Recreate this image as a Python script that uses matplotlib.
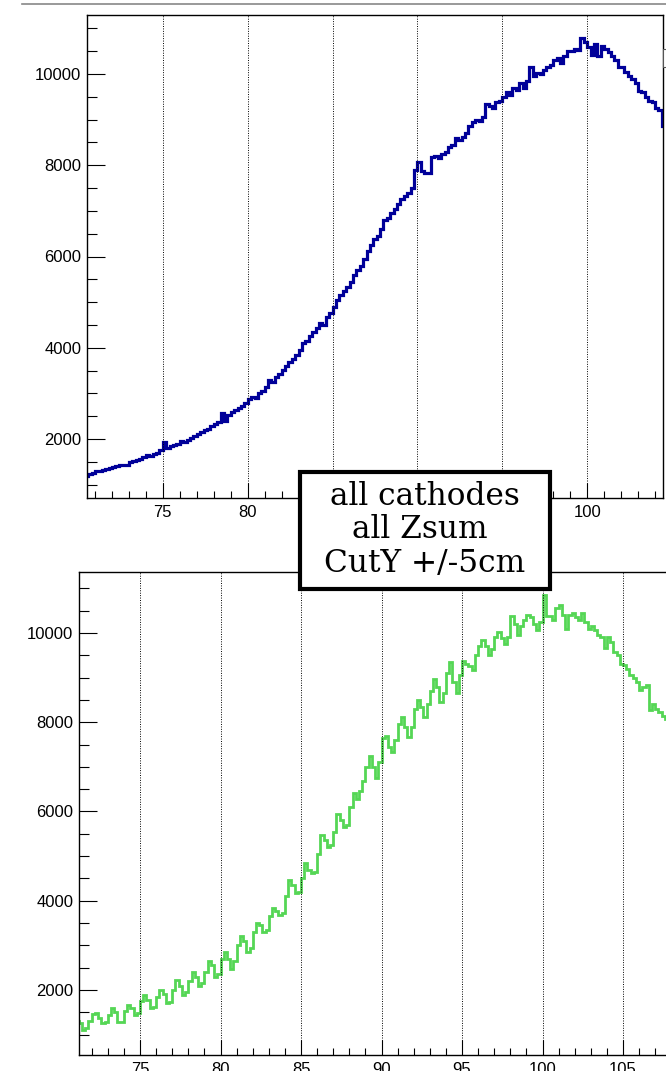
import numpy as np
import matplotlib
matplotlib.use("Agg")
import matplotlib.pyplot as plt
from matplotlib.patches import Rectangle
from matplotlib.lines import Line2D
from matplotlib.ticker import MultipleLocator

# histogram contents, 0.2 cm bins
top_start = 70.4
top_counts = [
    1200, 1225, 1250,
    1300, 1290, 1330, 1350, 1370,
    1390, 1400, 1420, 1440, 1430,
    1490, 1510, 1530, 1560, 1600,
    1640, 1630, 1680, 1700, 1750,
    1930, 1800, 1840, 1870, 1900,
    1950, 1940, 1980, 2030, 2070,
    2120, 2160, 2200, 2220, 2280,
    2330, 2380, 2570, 2400, 2520,
    2600, 2640, 2680, 2720, 2780,
    2880, 2920, 2900, 3000, 3060,
    3140, 3300, 3240, 3360, 3420,
    3520, 3600, 3680, 3760, 3850,
    3950, 4100, 4150, 4260, 4350,
    4430, 4550, 4500, 4680, 4760,
    4900, 5050, 5150, 5250, 5330,
    5450, 5600, 5700, 5800, 5950,
    6120, 6250, 6380, 6450, 6600,
    6800, 6850, 6950, 7050, 7150,
    7250, 7330, 7400, 7500, 7900,
    8080, 7870, 7840, 7830, 8170,
    8200, 8150, 8250, 8300, 8400,
    8450, 8600, 8550, 8620, 8700,
    8850, 8950, 9000, 8980, 9050,
    9350, 9300, 9250, 9380, 9400,
    9500, 9600, 9550, 9700, 9650,
    9800, 9700, 9850, 10150, 9950,
    10020, 10000, 10080, 10150, 10200,
    10300, 10350, 10250, 10400, 10500,
    10500, 10550, 10520, 10780, 10700,
    10600, 10420, 10650, 10400, 10620,
    10550, 10480, 10400, 10300, 10160,
    10150, 10050, 9950, 9900, 9800,
    9620, 9600, 9500, 9400, 9390,
    9250, 9200, 8850, 8800, 8700,
]

bottom_start = 71.0
bottom_counts = [
    1300, 1250, 1100, 1150, 1300,
    1460, 1480, 1380, 1260, 1280,
    1450, 1590, 1500, 1280, 1290,
    1520, 1660, 1600, 1450, 1480,
    1750, 1890, 1780, 1600, 1620,
    1850, 1990, 1900, 1700, 1720,
    2000, 2220, 2100, 1890, 1950,
    2200, 2400, 2300, 2100, 2150,
    2400, 2640, 2550, 2300, 2350,
    2700, 2860, 2700, 2470, 2650,
    3000, 3210, 3100, 2860, 2950,
    3300, 3490, 3450, 3310, 3350,
    3650, 3830, 3780, 3680, 3720,
    4100, 4460, 4350, 4170, 4200,
    4520, 4850, 4700, 4620, 4650,
    5050, 5470, 5350, 5210, 5250,
    5550, 5940, 5800, 5660, 5700,
    6100, 6420, 6270, 6450, 6680,
    7000, 7250, 7000, 6740, 7100,
    7650, 7700, 7450, 7340, 7600,
    7950, 8120, 7900, 7680, 7900,
    8300, 8500, 8350, 8120, 8400,
    8700, 8980, 8800, 8460, 8650,
    9100, 9360, 8900, 8650, 9050,
    9370, 9300, 9250, 9170, 9500,
    9700, 9840, 9700, 9510, 9650,
    9900, 10030, 9880, 9750, 9900,
    10370, 10200, 9960, 10150, 10300,
    10400, 10350, 10200, 10070, 10250,
    10850, 10370, 10380, 10300, 10550,
    10630, 10400, 10100, 10400, 10450,
    10350, 10300, 10440, 10250, 10100,
    10150, 10070, 9950, 9900, 9660,
    9920, 9800, 9580, 9500, 9300,
    9280, 9200, 9060, 9000, 8900,
    8720, 8800, 8840, 8280, 8400,
    8300, 8240, 8150, 8080, 8010,
]
bin_width = 0.2

label_lines = ["all cathodes", "all Zsum ", "CutY +/-5cm"]

W, H = 666, 1071
fig = plt.figure(figsize=(W / 100, H / 100), dpi=100)


def style_axis(ax):
    ax.xaxis.set_major_locator(MultipleLocator(5))
    ax.xaxis.set_minor_locator(MultipleLocator(1))
    ax.yaxis.set_major_locator(MultipleLocator(2000))
    ax.yaxis.set_minor_locator(MultipleLocator(500))
    ax.tick_params(axis="x", which="major", direction="in", length=10.8, width=0.8, pad=5)
    ax.tick_params(axis="x", which="minor", direction="in", length=5.2, width=0.8)
    ax.tick_params(axis="y", which="major", direction="in", length=13, width=0.8, pad=4)
    ax.tick_params(axis="y", which="minor", direction="in", length=7.2, width=0.8)
    for lab in ax.get_xticklabels() + ax.get_yticklabels():
        lab.set_fontfamily("Liberation Sans")
        lab.set_fontsize(12)
    ax.grid(axis="x", which="major", color="black", linestyle=(0, (1, 1.5)), linewidth=0.7)
    for sp in ax.spines.values():
        sp.set_linewidth(1.0)


# upper histogram
ax1 = fig.add_axes([87 / W, 1 - 498 / H, 576 / W, 483 / H])
edges1 = top_start + bin_width * np.arange(len(top_counts) + 1)
ax1.stairs(top_counts, edges1, baseline=None, color="#000099", linewidth=2.3)
ax1.set_xlim(70.53, 104.47)
ax1.set_ylim(707, 11293)
style_axis(ax1)

# lower histogram
ax2 = fig.add_axes([79 / W, 1 - 1055 / H, 621 / W, 483 / H])
edges2 = bottom_start + bin_width * np.arange(len(bottom_counts) + 1)
ax2.stairs(bottom_counts, edges2, baseline=None, color="#55d655", linewidth=2.0)
ax2.set_xlim(71.21, 109.78)
ax2.set_ylim(543, 11367)
style_axis(ax2)

# thin separator line at the very top
fig.add_artist(Line2D([22 / W, 1.0], [1 - 4 / H, 1 - 4 / H], color="#888888", linewidth=1.2))

# edge of a box cut off on the right of the upper pad
fig.add_artist(Rectangle((663 / W, 1 - 67 / H), 10 / W, 18 / H, transform=fig.transFigure,
                         facecolor="white", edgecolor="#555555", linewidth=0.8, zorder=5))

# caption box between the two pads
fig.add_artist(Rectangle((300 / W, 1 - 589 / H), 250 / W, 117 / H, transform=fig.transFigure,
                         facecolor="white", edgecolor="black", linewidth=3.0, zorder=10))
fig.text(425 / W, 1 - 530 / H, "\n".join(label_lines), ha="center", va="center",
         fontfamily="DejaVu Serif", fontsize=22.5, linespacing=1.1, zorder=11)

fig.savefig("out.png", dpi=100)
